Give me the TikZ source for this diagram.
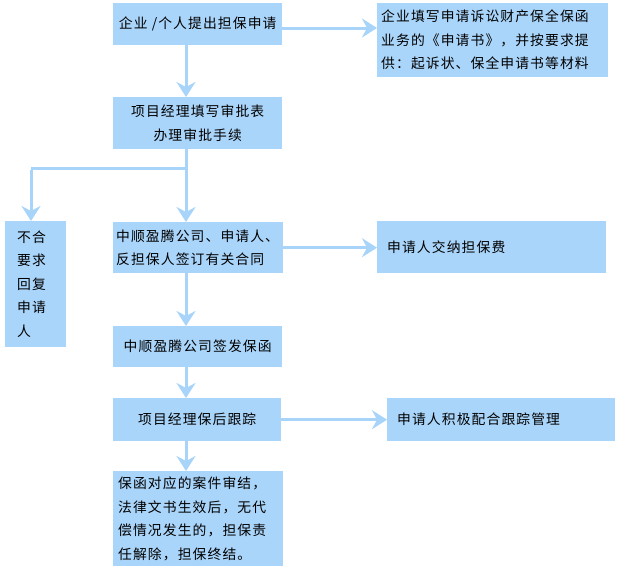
\documentclass[tikz,border=0pt]{standalone}
\usepackage{fontspec}
\newfontfamily\cjk[LetterSpace=8]{Noto Sans CJK SC}
\usetikzlibrary{arrows.meta}
\definecolor{boxblue}{RGB}{170,213,250}
\definecolor{lineblue}{RGB}{168,212,250}
\begin{document}
\begin{tikzpicture}[x=1pt,y=-1pt,
  box/.style={fill=boxblue,draw=none,inner sep=0pt,anchor=north west,
    font=\cjk\fontsize{13.8}{23.5}\selectfont,text=black},
  cbox/.style={box,align=center},
  lbox/.style={box,align=left},
  conn/.style={draw=lineblue,line width=3pt},
  arr/.style={conn,-{Stealth[width=19pt,length=15pt,inset=5pt]}}]
\useasboundingbox (0,0) rectangle (626,571);
% left column
\node[cbox,minimum width=169,minimum height=42] (b1) at (113,3) {企业 /个人提出担保申请};
\node[cbox,minimum width=169,minimum height=52] (b2) at (113,97) {项目经理填写审批表\\办理审批手续};
\node[lbox,minimum width=169,minimum height=51,text width=164,inner xsep=3pt] (b3) at (113,222) {中顺盈腾公司、申请人、\\反担保人签订有关合同};
\node[cbox,minimum width=169,minimum height=41] (b4) at (113,326) {中顺盈腾公司签发保函};
\node[cbox,minimum width=168,minimum height=43] (b5) at (113,398) {项目经理保后跟踪};
\node[lbox,minimum width=168,minimum height=95,text width=160,inner xsep=5pt] (b6) at (113,471) {保函对应的案件审结，\\法律文书生效后，无代\\偿情况发生的，担保责\\任解除，担保终结。};
% reject box
\node[lbox,minimum width=61,minimum height=126,text width=37,inner xsep=12pt] (rej) at (5,221) {不合\\要求\\回复\\申请\\人};
% right column
\node[lbox,minimum width=229,minimum height=74,text width=223,inner xsep=4pt] (r1) at (377,3) {企业填写申请诉讼财产保全保函\\业务的《申请书》，并按要求提\\供：起诉状、保全申请书等材料};
\node[lbox,minimum width=229,minimum height=52,text width=209,inner xsep=10pt] (r2) at (377,221) {申请人交纳担保费};
\node[lbox,minimum width=228,minimum height=43,text width=208,inner xsep=10pt] (r3) at (387,398) {申请人积极配合跟踪管理};
% coordinates
\coordinate (c1) at (186,45);
\coordinate (c2) at (186,97);
\coordinate (c3) at (186,149);
\coordinate (c4) at (186,222);
\coordinate (c5) at (186,273);
\coordinate (c6) at (186,326);
\coordinate (c7) at (186,367);
\coordinate (c8) at (186,398);
\coordinate (c9) at (186,441);
\coordinate (c10) at (186,471);
\coordinate (br) at (186,168);
\coordinate (bl) at (31,168);
\coordinate (rt) at (31,221);
\coordinate (e1) at (282,28);
\coordinate (f1) at (377,28);
% connectors
\draw[arr] (c1) -- (c2);
\draw[arr] (c3) -- (c4);
\draw[conn] (br) -- (bl);
\draw[arr] ([yshift=-1.5pt]bl) -- (rt);
\draw[arr] (c5) -- (c6);
\draw[arr] (c7) -- (c8);
\draw[arr] (c9) -- (c10);
\draw[arr] (e1) -- (f1);
\draw[arr] (b3.east) -- (r2.west |- b3.east);
\draw[arr] (b5.east) -- (r3.west |- b5.east);
\end{tikzpicture}
\end{document}
